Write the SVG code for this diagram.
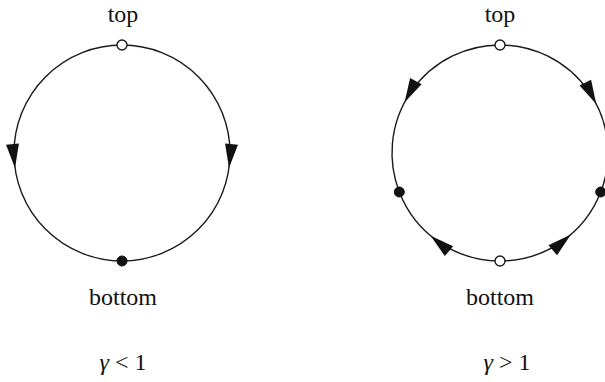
<svg xmlns="http://www.w3.org/2000/svg" xmlns:xlink="http://www.w3.org/1999/xlink" width="605" height="382" viewBox="0 0 605 382">
<style>
.arc{fill:none;stroke:#1a1a1a;stroke-width:1.4}
.open{fill:#fff;stroke:#1a1a1a;stroke-width:1.4}
.fill{fill:#111;stroke:#111;stroke-width:1}
.lbl{font-family:"Liberation Serif","Times New Roman",serif;font-size:24px;fill:#111;text-anchor:middle}
.gam{font-style:italic}
.head{fill:#111}
</style>
<defs>
<path id="ah" d="M0,0 L-24,-6.5 L-24,6.5 Z"/>
</defs>
<rect width="605" height="382" fill="#fff"/>
<g id="connectors">
<path class="arc" d="M122,45 A108,108 0 0 0 122,261"/>
<path class="arc" d="M122,45 A108,108 0 0 1 122,261"/>
<path class="arc" d="M500,45 A108,108 0 0 0 399.3,192"/>
<path class="arc" d="M500,45 A108,108 0 0 1 600.7,192"/>
<path class="arc" d="M500,261 A108,108 0 0 1 399.3,192"/>
<path class="arc" d="M500,261 A108,108 0 0 0 600.7,192"/>
<use class="head" xlink:href="#ah" transform="translate(15,168) rotate(84)"/>
<use class="head" xlink:href="#ah" transform="translate(229,168) rotate(96)"/>
<use class="head" xlink:href="#ah" transform="translate(404.6,102.3) rotate(118)"/>
<use class="head" xlink:href="#ah" transform="translate(596.2,104) rotate(63)"/>
<use class="head" xlink:href="#ah" transform="translate(430.6,235.7) rotate(220)"/>
<use class="head" xlink:href="#ah" transform="translate(570.9,234.5) rotate(-41)"/>
</g>
<g id="left-top"><circle class="open" cx="122" cy="45" r="5"/><text class="lbl" x="123" y="22">top</text></g>
<g id="left-bottom"><circle class="fill" cx="122" cy="261" r="5"/><text class="lbl" x="123" y="305">bottom</text></g>
<g id="left-caption"><text class="lbl" x="123" y="370"><tspan class="gam">γ</tspan> &lt; 1</text></g>
<g id="right-top"><circle class="open" cx="500" cy="45" r="5"/><text class="lbl" x="500" y="22">top</text></g>
<g id="right-left"><circle class="fill" cx="399.3" cy="192" r="5"/></g>
<g id="right-right"><circle class="fill" cx="600.7" cy="192" r="5"/></g>
<g id="right-bottom"><circle class="open" cx="500" cy="261" r="5"/><text class="lbl" x="500" y="305">bottom</text></g>
<g id="right-caption"><text class="lbl" x="507" y="370"><tspan class="gam">γ</tspan> &gt; 1</text></g>
</svg>
